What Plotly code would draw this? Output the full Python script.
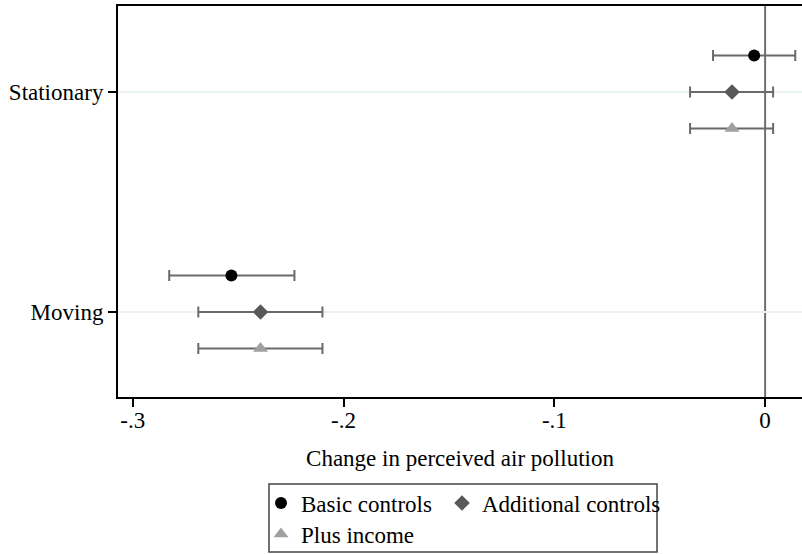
import plotly.graph_objects as go

# ---- data ----
categories = ["Stationary", "Moving"]
cat_pos = [1, 0]
series_names = ["Basic controls", "Additional controls", "Plus income"]
offsets = [0.166, 0.0, -0.166]

basic_est = [-0.0052, -0.2532]
basic_lo = [-0.0247, -0.2827]
basic_hi = [0.0143, -0.2233]

addl_est = [-0.0157, -0.2394]
addl_lo = [-0.0356, -0.2689]
addl_hi = [0.0038, -0.2100]

inc_est = [-0.0157, -0.2394]
inc_lo = [-0.0356, -0.2689]
inc_hi = [0.0038, -0.2100]

x_tickvals = [-0.3, -0.2, -0.1, 0]
x_ticktext = ["-.3", "-.2", "-.1", "0"]
x_title = "Change in perceived air pollution"

FONT = "Liberation Serif"
FS = 23

styles = [
    dict(symbol="circle", color="#000000", size=12),
    dict(symbol="diamond", color="#595959", size=12),
    dict(symbol="triangle-up", color="#a0a0a0", size=13),
]
legends = ["legend", "legend2", "legend3"]

fig = go.Figure()
all_data = [(basic_est, basic_lo, basic_hi), (addl_est, addl_lo, addl_hi), (inc_est, inc_lo, inc_hi)]
for i, (est, lo, hi) in enumerate(all_data):
    y = [p + offsets[i] for p in cat_pos]
    fig.add_trace(go.Scatter(
        x=est, y=y, mode="markers", name=series_names[i],
        marker=dict(symbol=styles[i]["symbol"], color=styles[i]["color"], size=styles[i]["size"],
                    line=dict(width=0)),
        error_x=dict(type="data", symmetric=False,
                     array=[h - e for h, e in zip(hi, est)],
                     arrayminus=[e - l for e, l in zip(est, lo)],
                     color="#6a6a6a", thickness=2, width=5.5),
        legend=legends[i], showlegend=True,
    ))

leg_common = dict(font=dict(family=FONT, size=FS, color="#000"), bgcolor="rgba(0,0,0,0)",
                  borderwidth=0, xref="container", yref="container", yanchor="middle", xanchor="left")

plot_top, plot_bot = 6, 397  # page pixels
fig.update_layout(
    width=802, height=554,
    margin=dict(l=118, r=0, t=plot_top, b=554 - plot_bot, autoexpand=False),
    paper_bgcolor="white", plot_bgcolor="white",
    font=dict(family=FONT, size=FS, color="#000"),
    xaxis=dict(range=[-0.307, 0.0175], tickvals=x_tickvals, ticktext=x_ticktext,
               showline=True, linecolor="black", linewidth=1.5, mirror=True,
               ticks="outside", ticklen=8, tickcolor="black", tickwidth=1.5,
               ticklabelstandoff=-6,
               showgrid=False, zeroline=False, automargin=False,
               title=dict(text=x_title, standoff=18, font=dict(family=FONT, size=FS))),
    yaxis=dict(range=[-(plot_bot - 312) / 220, (312 - plot_top) / 220], tickvals=cat_pos, ticktext=categories,
               showline=True, linecolor="black", linewidth=2,
               ticks="outside", ticklen=8, tickcolor="black", tickwidth=1.5, automargin=False,
               showgrid=True, gridcolor="#eaf2f3", gridwidth=1.5, zeroline=False),
    legend=dict(x=(281 - 20) / 802, y=1 - 503 / 554, **leg_common),
    legend2=dict(x=(462 - 20) / 802, y=1 - 503 / 554, **leg_common),
    legend3=dict(x=(281 - 20) / 802, y=1 - 534 / 554, **leg_common),
    shapes=[
        dict(type="line", xref="x", yref="paper", x0=0, x1=0, y0=0, y1=1,
             line=dict(color="#707070", width=2), layer="below"),
        dict(type="rect", xref="paper", yref="paper",
             x0=(269 - 118) / 684, x1=(657 - 118) / 684,
             y0=(plot_bot - 552) / (plot_bot - plot_top), y1=(plot_bot - 484) / (plot_bot - plot_top),
             line=dict(color="#444444", width=1.5), fillcolor="rgba(0,0,0,0)"),
    ],
)

fig.write_html("out.html", config={"displayModeBar": False},
               post_script="document.body.style.margin='0px';")
